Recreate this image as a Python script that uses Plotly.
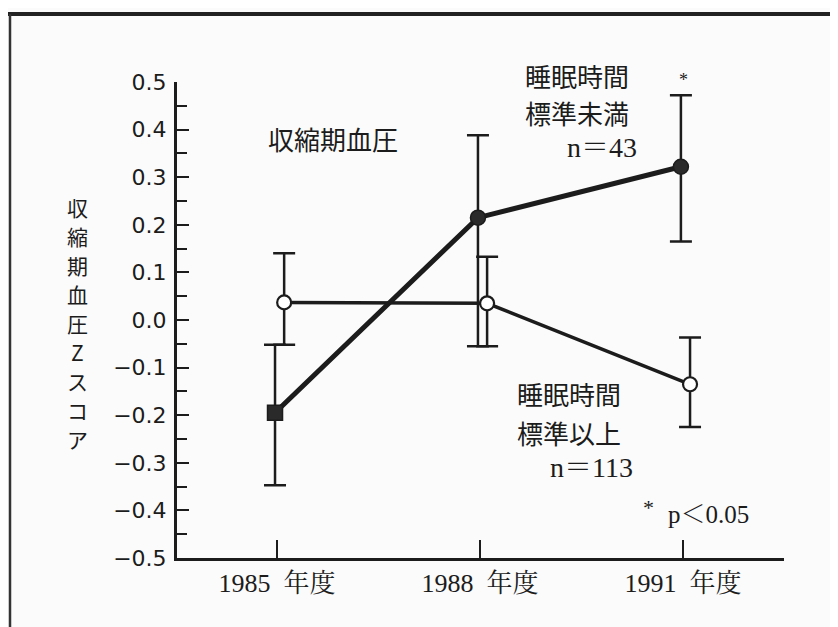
import plotly.graph_objects as go

# ---- data ----
years = ["1985\u2002年度", "1988\u2002年度", "1991\u2002年度"]
x_pos = [0, 1, 2]

short_sleep_mean = [-0.195, 0.215, 0.322]     # 睡眠時間 標準未満 n=43
short_sleep_upper = [-0.052, 0.388, 0.472]
short_sleep_lower = [-0.347, -0.055, 0.165]

normal_sleep_mean = [0.037, 0.035, -0.135]    # 睡眠時間 標準以上 n=113
normal_sleep_upper = [0.140, 0.133, -0.037]
normal_sleep_lower = [-0.052, -0.055, -0.225]

y_ticks = [-0.5, -0.4, -0.3, -0.2, -0.1, 0.0, 0.1, 0.2, 0.3, 0.4, 0.5]
y_labels = ["−0.5", "−0.4", "−0.3", "−0.2", "−0.1", "0.0", "0.1", "0.2", "0.3", "0.4", "0.5"]
y_title = "収縮期血圧Zスコア"

INK = "#1c1c1c"
JP = "Noto Sans CJK JP"
SERIF = "Liberation Serif, Noto Serif CJK JP, Noto Sans CJK JP"

# page has an 8px body margin: size the figure so it fills the 838x627 window
OFF = 8
W, H = 838 - OFF, 627 - OFF
X0, X1, Y0, Y1 = 177, 784, 82, 558          # plot area in window pixels
L, R, T, B = X0 - OFF, 838 - X1, Y0 - OFF, 627 - Y1
PW, PH = X1 - X0, Y1 - Y0


def px(xs):
    return (xs - X0) / PW


def py(ys):
    return (Y1 - ys) / PH


fig = go.Figure()

# open circles (標準以上)
fig.add_trace(go.Scatter(
    x=[v + 0.035 for v in x_pos], y=normal_sleep_mean,
    mode="lines+markers",
    line=dict(color=INK, width=3.5),
    marker=dict(symbol="circle", size=14, color="white", line=dict(color=INK, width=2.2)),
    error_y=dict(type="data", symmetric=False,
                 array=[u - m for u, m in zip(normal_sleep_upper, normal_sleep_mean)],
                 arrayminus=[m - l for m, l in zip(normal_sleep_mean, normal_sleep_lower)],
                 color=INK, thickness=2.5, width=11),
    showlegend=False, cliponaxis=False,
))

# filled markers (標準未満)
fig.add_trace(go.Scatter(
    x=[v - 0.01 for v in x_pos], y=short_sleep_mean,
    mode="lines+markers",
    line=dict(color=INK, width=5),
    marker=dict(symbol=["square", "circle", "circle"], size=15, color="#2a2a2a",
                line=dict(color=INK, width=1.5)),
    error_y=dict(type="data", symmetric=False,
                 array=[u - m for u, m in zip(short_sleep_upper, short_sleep_mean)],
                 arrayminus=[m - l for m, l in zip(short_sleep_mean, short_sleep_lower)],
                 color=INK, thickness=2.5, width=11),
    showlegend=False, cliponaxis=False,
))

annotations = []


def txt(text, xs, ys, size, xanchor="center", family=JP, pad=1):
    annotations.append(dict(text=text, x=px(xs), y=py(ys), xref="paper", yref="paper",
                            xanchor=xanchor, yanchor="middle", showarrow=False, borderpad=pad,
                            font=dict(family=family, size=size, color=INK)))


txt("収縮期血圧", 333, 138, 26)
txt("睡眠時間", 523, 75, 26, "left")
txt("標準未満", 523, 112, 26, "left")
txt("n＝43", 639, 148, 28, "right", SERIF)
txt("睡眠時間", 515, 393, 26, "left")
txt("標準以上", 515, 432, 26, "left")
txt("n＝113", 635, 467, 28, "right", SERIF)
txt("*", 683, 80, 18, "center", SERIF)
txt("*", 648, 507, 22, "center", SERIF)
txt("p＜0.05", 666, 514, 25, "left", SERIF)

# vertical y-axis title, one character per row
for i, ch in enumerate(y_title):
    txt(ch, 77, 207 + 29 * i, 21, "center", JP, 0)

fig.update_layout(
    width=W, height=H,
    margin=dict(l=L, r=R, t=T, b=B, pad=0, autoexpand=False),
    paper_bgcolor="#fbfbfb", plot_bgcolor="#fbfbfb",
    annotations=annotations,
    shapes=[
        dict(type="line", xref="paper", yref="paper", x0=px(8), x1=px(845), y0=py(14), y1=py(14),
             line=dict(color="#222", width=4)),
        dict(type="line", xref="paper", yref="paper", x0=px(10), x1=px(10), y0=py(14), y1=py(635),
             line=dict(color="#333", width=2.5)),
    ],
    xaxis=dict(range=[-0.493, 2.498], tickvals=x_pos, ticktext=years, automargin=False,
               showgrid=False, zeroline=False, showline=True, linecolor=INK, linewidth=3,
               ticks="inside", ticklen=18, tickwidth=2, tickcolor=INK,
               tickfont=dict(family=SERIF, size=26, color=INK), ticklabelstandoff=0),
    yaxis=dict(range=[-0.5, 0.5], tickvals=y_ticks, ticktext=y_labels, automargin=False,
               showgrid=False, zeroline=False, showline=True, linecolor=INK, linewidth=3,
               ticks="inside", ticklen=12, tickwidth=2, tickcolor=INK,
               minor=dict(dtick=0.05, tick0=0.05, ticks="inside", ticklen=10, tickwidth=2, tickcolor=INK),
               tickfont=dict(family="DejaVu Sans", size=22, color=INK), ticklabelstandoff=3),
)

fig.write_html("out.html")
